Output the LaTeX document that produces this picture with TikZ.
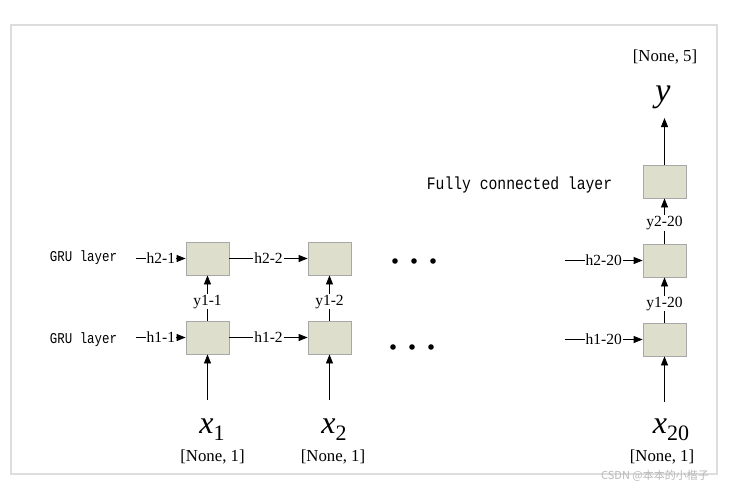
\documentclass[tikz,border=0pt]{standalone}
\usepackage{fontspec}
\setmainfont{Liberation Serif}
\newfontfamily\monofont{Liberation Mono}
\newfontfamily\cjk{Noto Sans CJK SC}
\usetikzlibrary{arrows.meta}
\definecolor{boxfill}{HTML}{DDDFCC}
\definecolor{boxline}{HTML}{A8A8A8}
\definecolor{framecol}{HTML}{DDDDDD}
\newcommand\xsub[1]{{\fontsize{32}{32}\selectfont\itshape x}\raisebox{-7pt}{\fontsize{22}{22}\selectfont #1}}
\newcommand\narrow[2]{\scalebox{#1}[1]{#2}}
\begin{document}
\begin{tikzpicture}[x=1pt,y=-1pt,
  cell/.style={draw=boxline, fill=boxfill, minimum width=43pt, minimum height=33pt, inner sep=0pt, line width=0.8pt},
  conn/.style={-{Triangle[length=9pt,width=7pt]}, line width=0.8pt},
  lbl/.style={fill=white, inner sep=1pt, font=\fontsize{15.5}{15.5}\selectfont},
  layertext/.style={font=\monofont\fontsize{15}{16}\selectfont},
  dimtext/.style={font=\fontsize{16.8}{16.8}\selectfont},
  dotc/.style={fill=black}
]
\useasboundingbox (0,0) rectangle (729,488);
\fill[white] (0,0) rectangle (729,488);
\draw[framecol, line width=2.5pt, fill=white] (11,25) rectangle (717,474);

% cells
\node[cell] (a1) at (207.5,337.5) {};
\node[cell] (b1) at (207.5,258.5) {};
\node[cell] (a2) at (329.5,337.5) {};
\node[cell] (b2) at (329.5,258.5) {};
\node[cell] (a20) at (664.5,339.5) {};
\node[cell] (b20) at (664.5,260.5) {};
\node[cell] (fc) at (664.5,181.5) {};

% free ends
\coordinate (h21s) at (136,258.5);
\coordinate (h11s) at (136,337.5);
\coordinate (h220s) at (565,260.5);
\coordinate (h120s) at (565,339.5);
\coordinate (in1) at (207.5,400);
\coordinate (in2) at (329.5,400);
\coordinate (in20) at (664.5,402);
\coordinate (out) at (664.5,118);

% horizontal connectors
\draw[conn] (h21s) -- node[lbl] {h2-1} (b1);
\draw[conn] (b1) -- node[lbl] {h2-2} (b2);
\draw[conn] (h11s) -- node[lbl] {h1-1} (a1);
\draw[conn] (a1) -- node[lbl] {h1-2} (a2);
\draw[conn] (h220s) -- node[lbl] {h2-20} (b20);
\draw[conn] (h120s) -- node[lbl] {h1-20} (a20);

% vertical connectors
\draw[conn] (a1) -- node[lbl, pos=0.42] {y1-1} (b1);
\draw[conn] (a2) -- node[lbl, pos=0.42] {y1-2} (b2);
\draw[conn] (a20) -- node[lbl, pos=0.42] {y1-20} (b20);
\draw[conn] (b20) -- node[lbl, pos=0.45] {y2-20} (fc);
\draw[conn] (in1) -- (a1);
\draw[conn] (in2) -- (a2);
\draw[conn] (in20) -- (a20);
\draw[conn] (fc) -- (out);

% texts
\node[layertext] (g2) at (83.5,258) {\narrow{0.83}{GRU layer}};
\node[layertext] (g1) at (83.5,340) {\narrow{0.83}{GRU layer}};
\node[font=\monofont\fontsize{17.5}{18}\selectfont] (fcl) at (519.5,185) {\narrow{0.84}{Fully connected layer}};

\node (x1) at (212,430) {\xsub{1}};
\node (x2) at (334,430) {\xsub{2}};
\node (x20) at (671,430) {\xsub{20}};
\node[dimtext] (s1) at (212.5,457) {[None, 1]};
\node[dimtext] (s2) at (333,457) {[None, 1]};
\node[dimtext] (s20) at (662,457) {[None, 1]};
\node[font=\fontsize{34}{34}\selectfont\itshape] (y) at (663,97) {y};
\node[dimtext] (s5) at (665,57) {[None, 5]};

% dots
\foreach \x in {395,414,433} \fill[dotc] (\x,261) circle (2.8);
\foreach \x in {393,412,431} \fill[dotc] (\x,347) circle (2.8);

% watermark
\node[text=gray!55, font=\cjk\fontsize{11}{11}\selectfont] (wm) at (655,476) {CSDN @本本的小楷子};
\end{tikzpicture}
\end{document}
